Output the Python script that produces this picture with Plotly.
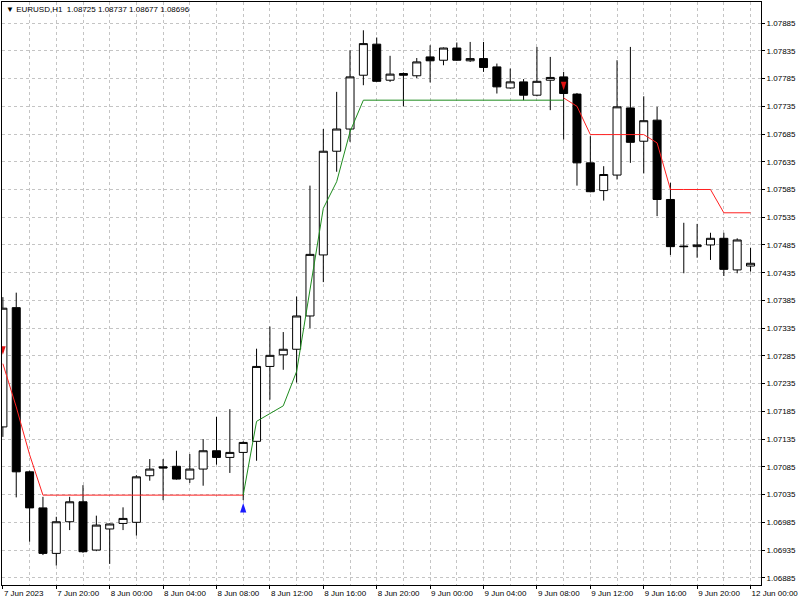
import pandas as pd
import plotly.graph_objects as go

# hourly bars, 7 Jun 16:00 .. 9 Jun 23:00, then Monday 12 Jun 00:00
times = list(pd.date_range("2023-06-07 16:00", "2023-06-09 23:00", freq="h")) + [pd.Timestamp("2023-06-12 00:00")]

opens = [1.07157, 1.07372, 1.07076, 1.07011, 1.06929, 1.06986, 1.07022, 1.06935, 1.06973, 1.06983,
         1.06985, 1.07069, 1.07085, 1.07086, 1.07063, 1.07081, 1.07114, 1.07102, 1.07111, 1.07131,
         1.07266, 1.07287, 1.07297, 1.07357, 1.07467, 1.07654, 1.07694, 1.07791, 1.07847, 1.07782,
         1.07794, 1.07790, 1.07824, 1.07818, 1.07840, 1.07817, 1.07821, 1.07806, 1.07768, 1.07779,
         1.07755, 1.07782, 1.07788, 1.07757, 1.07633, 1.07583, 1.07611, 1.07732, 1.07672, 1.07710,
         1.07567, 1.07483, 1.07482, 1.07485, 1.07497, 1.07440, 1.07447]
highs = [1.07391, 1.07399, 1.07078, 1.07031, 1.06995, 1.07031, 1.07052, 1.06997, 1.06983, 1.07012,
         1.07070, 1.07099, 1.07099, 1.07114, 1.07108, 1.07135, 1.07175, 1.07189, 1.07131, 1.07298,
         1.07338, 1.07328, 1.07392, 1.07592, 1.07694, 1.07761, 1.07836, 1.07872, 1.07859, 1.07826,
         1.07796, 1.07822, 1.07845, 1.07841, 1.07850, 1.07851, 1.07851, 1.07812, 1.07803, 1.07784,
         1.07842, 1.07824, 1.07797, 1.07759, 1.07681, 1.07627, 1.07818, 1.07842, 1.07753, 1.07734,
         1.07597, 1.07525, 1.07523, 1.07507, 1.07507, 1.07497, 1.07480]
lows = [1.07139, 1.07030, 1.06950, 1.06926, 1.06907, 1.06971, 1.06930, 1.06933, 1.06910, 1.06971,
        1.06961, 1.07060, 1.07025, 1.07062, 1.07056, 1.07051, 1.07089, 1.07074, 1.07025, 1.07096,
        1.07206, 1.07260, 1.07237, 1.07335, 1.07418, 1.07617, 1.07671, 1.07773, 1.07779, 1.07779,
        1.07735, 1.07786, 1.07778, 1.07809, 1.07817, 1.07815, 1.07797, 1.07758, 1.07767, 1.07746,
        1.07753, 1.07728, 1.07675, 1.07592, 1.07580, 1.07565, 1.07603, 1.07633, 1.07614, 1.07537,
        1.07467, 1.07434, 1.07462, 1.07458, 1.07429, 1.07434, 1.07437]
closes = [1.07371, 1.07076, 1.07011, 1.06929, 1.06986, 1.07022, 1.06932, 1.06980, 1.06982, 1.06992,
          1.07067, 1.07081, 1.07083, 1.07063, 1.07081, 1.07114, 1.07102, 1.07111, 1.07129, 1.07266,
          1.07286, 1.07297, 1.07357, 1.07468, 1.07654, 1.07694, 1.07788, 1.07848, 1.07780, 1.07793,
          1.07791, 1.07815, 1.07817, 1.07840, 1.07818, 1.07821, 1.07805, 1.07770, 1.07779, 1.07755,
          1.07780, 1.07787, 1.07758, 1.07633, 1.07581, 1.07612, 1.07734, 1.07670, 1.07709, 1.07567,
          1.07482, 1.07482, 1.07485, 1.07497, 1.07441, 1.07494, 1.07452]

# trailing stop: red while short, green while long
red_line = [1.07271, 1.07193, 1.07107] + [1.07034] * 16 + [None] * 23 + \
           [1.07750, 1.07735, 1.07684, 1.07684, 1.07684, 1.07684, 1.07684, 1.07669,
            1.07585, 1.07585, 1.07585, 1.07585, 1.07543, 1.07543, 1.07543]
green_line = [None] * 18 + [1.07034, 1.07167, 1.07181, 1.07195, 1.07257, 1.07403, 1.07551,
                            1.07599, 1.07689] + [1.07746] * 16 + [None] * 14

buy_idx, buy_price = [18], [1.07020]
sell_idx, sell_price = [0, 42], [1.07287, 1.07764]

tick_times = ["2023-06-07 16:00", "2023-06-07 20:00", "2023-06-08 00:00", "2023-06-08 04:00",
              "2023-06-08 08:00", "2023-06-08 12:00", "2023-06-08 16:00", "2023-06-08 20:00",
              "2023-06-09 00:00", "2023-06-09 04:00", "2023-06-09 08:00", "2023-06-09 12:00",
              "2023-06-09 16:00", "2023-06-09 20:00", "2023-06-12 00:00"]
tick_labels = ["7 Jun 2023", "7 Jun 20:00", "8 Jun 00:00", "8 Jun 04:00", "8 Jun 08:00",
               "8 Jun 12:00", "8 Jun 16:00", "8 Jun 20:00", "9 Jun 00:00", "9 Jun 04:00",
               "9 Jun 08:00", "9 Jun 12:00", "9 Jun 16:00", "9 Jun 20:00", "12 Jun 00:00"]

grid = "#c4c4c4"

fig = go.Figure()
fig.add_trace(go.Candlestick(
    x=times, open=opens, high=highs, low=lows, close=closes,
    increasing=dict(line=dict(color="black", width=1), fillcolor="white"),
    decreasing=dict(line=dict(color="black", width=1), fillcolor="black"),
    whiskerwidth=0, showlegend=False))
fig.add_trace(go.Scatter(x=times, y=red_line, mode="lines", line=dict(color="#ff2020", width=1),
                         connectgaps=False, showlegend=False))
fig.add_trace(go.Scatter(x=times, y=green_line, mode="lines", line=dict(color="#1e8c1e", width=1),
                         connectgaps=False, showlegend=False))
fig.add_trace(go.Scatter(x=[times[i] for i in buy_idx], y=buy_price, mode="markers",
                         marker=dict(symbol="arrow", size=10, color="#1a1aff"), showlegend=False))
fig.add_trace(go.Scatter(x=[times[i] for i in sell_idx], y=sell_price, mode="markers",
                         marker=dict(symbol="arrow", angle=180, size=9, color="#e01010"), showlegend=False))

fig.add_annotation(xref="paper", yref="paper", x=0, y=1, xanchor="left", yanchor="top",
                   xshift=2, yshift=-1, showarrow=False,
                   text="\u25bc EURUSD,H1  1.08725 1.08737 1.08677 1.08696",
                   font=dict(family="Liberation Sans", size=8, color="black"))

fig.update_layout(
    width=800, height=600,
    margin=dict(l=2, r=39, t=2, b=15),
    paper_bgcolor="white", plot_bgcolor="white",
    font=dict(family="Liberation Sans", size=8, color="black"),
    boxgap=0.4, boxgroupgap=0,
    xaxis=dict(
        rangeslider=dict(visible=False),
        rangebreaks=[dict(bounds=["sat", "mon"])],
        range=["2023-06-07 15:56", "2023-06-12 00:47"],
        tickmode="array", tickvals=tick_times, ticktext=tick_labels,
        tickangle=0, ticklabelposition="outside right",
        ticks="outside", ticklen=3, tickcolor="black",
        showgrid=True, gridcolor=grid, griddash="3px,3px", gridwidth=1,
        minor=dict(dtick=2 * 3600 * 1000, tick0="2023-06-07 00:00", showgrid=True,
                   gridcolor=grid, griddash="3px,3px", gridwidth=1),
        showline=True, linecolor="black", linewidth=1, mirror=True,
        zeroline=False,
    ),
    yaxis=dict(
        side="right",
        range=[1.06872, 1.07923],
        tick0=1.06885, dtick=0.0005, tickformat=".5f",
        ticks="outside", ticklen=3, tickcolor="black",
        showgrid=True, gridcolor=grid, griddash="3px,3px", gridwidth=1,
        showline=True, linecolor="black", linewidth=1, mirror=True,
        zeroline=False,
    ),
)

# the page body has a default 8px margin; drop it so the 800x600 figure fills the window
fig.write_html("out.html", config={"displayModeBar": False},
               post_script="document.body.style.margin='0';")
